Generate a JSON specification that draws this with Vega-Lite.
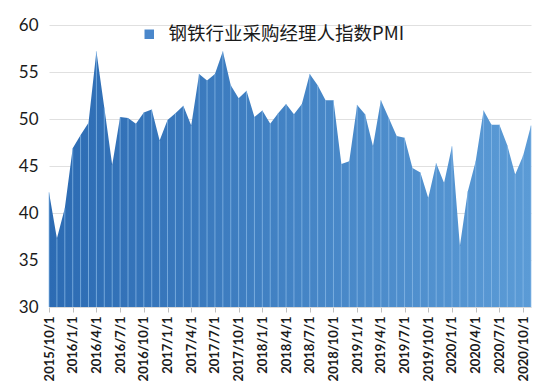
{
  "$schema": "https://vega.github.io/schema/vega-lite/v6.json",
  "width": 482,
  "height": 282,
  "autosize": {"type": "none"},
  "padding": {"left": 49, "top": 25, "right": 19, "bottom": 81},
  "background": "white",
  "config": {
    "view": {"stroke": null},
    "font": "Lato",
    "axis": {"labelFont": "Lato", "labelColor": "#1a1a1a"}
  },
  "data": {
    "values": [
      {"month": "2015/10/1", "pmi": 42.2},
      {"month": "2015/11/1", "pmi": 37.3},
      {"month": "2015/12/1", "pmi": 40.5},
      {"month": "2016/1/1", "pmi": 46.9},
      {"month": "2016/2/1", "pmi": 48.3},
      {"month": "2016/3/1", "pmi": 49.6},
      {"month": "2016/4/1", "pmi": 57.2},
      {"month": "2016/5/1", "pmi": 51.2},
      {"month": "2016/6/1", "pmi": 45.1},
      {"month": "2016/7/1", "pmi": 50.2},
      {"month": "2016/8/1", "pmi": 50.1},
      {"month": "2016/9/1", "pmi": 49.5},
      {"month": "2016/10/1", "pmi": 50.7},
      {"month": "2016/11/1", "pmi": 51.0},
      {"month": "2016/12/1", "pmi": 47.7},
      {"month": "2017/1/1", "pmi": 49.9},
      {"month": "2017/2/1", "pmi": 50.6},
      {"month": "2017/3/1", "pmi": 51.4},
      {"month": "2017/4/1", "pmi": 49.3},
      {"month": "2017/5/1", "pmi": 54.8},
      {"month": "2017/6/1", "pmi": 54.1},
      {"month": "2017/7/1", "pmi": 54.8},
      {"month": "2017/8/1", "pmi": 57.2},
      {"month": "2017/9/1", "pmi": 53.6},
      {"month": "2017/10/1", "pmi": 52.2},
      {"month": "2017/11/1", "pmi": 53.0},
      {"month": "2017/12/1", "pmi": 50.2},
      {"month": "2018/1/1", "pmi": 50.9},
      {"month": "2018/2/1", "pmi": 49.5},
      {"month": "2018/3/1", "pmi": 50.6},
      {"month": "2018/4/1", "pmi": 51.6},
      {"month": "2018/5/1", "pmi": 50.5},
      {"month": "2018/6/1", "pmi": 51.6},
      {"month": "2018/7/1", "pmi": 54.8},
      {"month": "2018/8/1", "pmi": 53.6},
      {"month": "2018/9/1", "pmi": 52.0},
      {"month": "2018/10/1", "pmi": 52.0},
      {"month": "2018/11/1", "pmi": 45.2},
      {"month": "2018/12/1", "pmi": 45.5},
      {"month": "2019/1/1", "pmi": 51.5},
      {"month": "2019/2/1", "pmi": 50.5},
      {"month": "2019/3/1", "pmi": 47.1},
      {"month": "2019/4/1", "pmi": 52.0},
      {"month": "2019/5/1", "pmi": 50.1},
      {"month": "2019/6/1", "pmi": 48.2},
      {"month": "2019/7/1", "pmi": 48.0},
      {"month": "2019/8/1", "pmi": 44.8},
      {"month": "2019/9/1", "pmi": 44.3},
      {"month": "2019/10/1", "pmi": 41.6},
      {"month": "2019/11/1", "pmi": 45.3},
      {"month": "2019/12/1", "pmi": 43.2},
      {"month": "2020/1/1", "pmi": 47.1},
      {"month": "2020/2/1", "pmi": 36.5},
      {"month": "2020/3/1", "pmi": 42.3},
      {"month": "2020/4/1", "pmi": 45.5},
      {"month": "2020/5/1", "pmi": 50.9},
      {"month": "2020/6/1", "pmi": 49.4},
      {"month": "2020/7/1", "pmi": 49.4},
      {"month": "2020/8/1", "pmi": 47.2},
      {"month": "2020/9/1", "pmi": 44.1},
      {"month": "2020/10/1", "pmi": 46.1},
      {"month": "2020/11/1", "pmi": 49.3}
    ]
  },
  "encoding": {
    "x": {
      "field": "month",
      "type": "ordinal",
      "sort": null,
      "scale": {"type": "point", "padding": 0},
      "axis": {
        "title": null,
        "values": ["2015/10/1", "2016/1/1", "2016/4/1", "2016/7/1", "2016/10/1", "2017/1/1", "2017/4/1", "2017/7/1", "2017/10/1", "2018/1/1", "2018/4/1", "2018/7/1", "2018/10/1", "2019/1/1", "2019/4/1", "2019/7/1", "2019/10/1", "2020/1/1", "2020/4/1", "2020/7/1", "2020/10/1"],
        "labelAngle": -90,
        "labelFontSize": 13,
        "labelFontWeight": "bold",
        "labelPadding": 4,
        "tickColor": "#bfbfbf",
        "tickSize": 5,
        "domainColor": "#d9d9d9",
        "grid": false
      }
    },
    "y": {
      "field": "pmi",
      "type": "quantitative",
      "scale": {"domain": [30, 60], "nice": false, "zero": false},
      "axis": {
        "title": null,
        "values": [30, 35, 40, 45, 50, 55, 60],
        "labelFontSize": 17,
        "labelPadding": 11,
        "ticks": false,
        "domain": false,
        "gridColor": "#e0e0e0",
        "gridWidth": 1
      }
    }
  },
  "layer": [
    {
      "mark": {
        "type": "area",
        "clip": true,
        "color": {
          "gradient": "linear",
          "x1": 0, "y1": 0, "x2": 1, "y2": 0,
          "stops": [
            {"offset": 0, "color": "#2c6bb3"},
            {"offset": 1, "color": "#5b9bd6"}
          ]
        }
      }
    },
    {
      "mark": {"type": "rule", "color": "#8fbde9", "strokeWidth": 1, "opacity": 0.7},
      "encoding": {"y2": {"datum": 30}}
    },
    {
      "mark": {"type": "square", "opacity": 0, "size": 64},
      "encoding": {
        "color": {
          "datum": "钢铁行业采购经理人指数PMI",
          "scale": {"range": ["#4a87cb"]},
          "legend": {
            "title": null,
            "orient": "none",
            "legendX": 91,
            "legendY": 0,
            "symbolType": "square",
            "symbolSize": 90,
            "symbolOpacity": 1,
            "symbolStrokeWidth": 0,
            "labelFont": "Noto Sans CJK SC",
            "labelFontSize": 18.5,
            "labelColor": "#1a1a1a",
            "labelOffset": 10,
            "labelLimit": 400
          }
        }
      }
    }
  ]
}
